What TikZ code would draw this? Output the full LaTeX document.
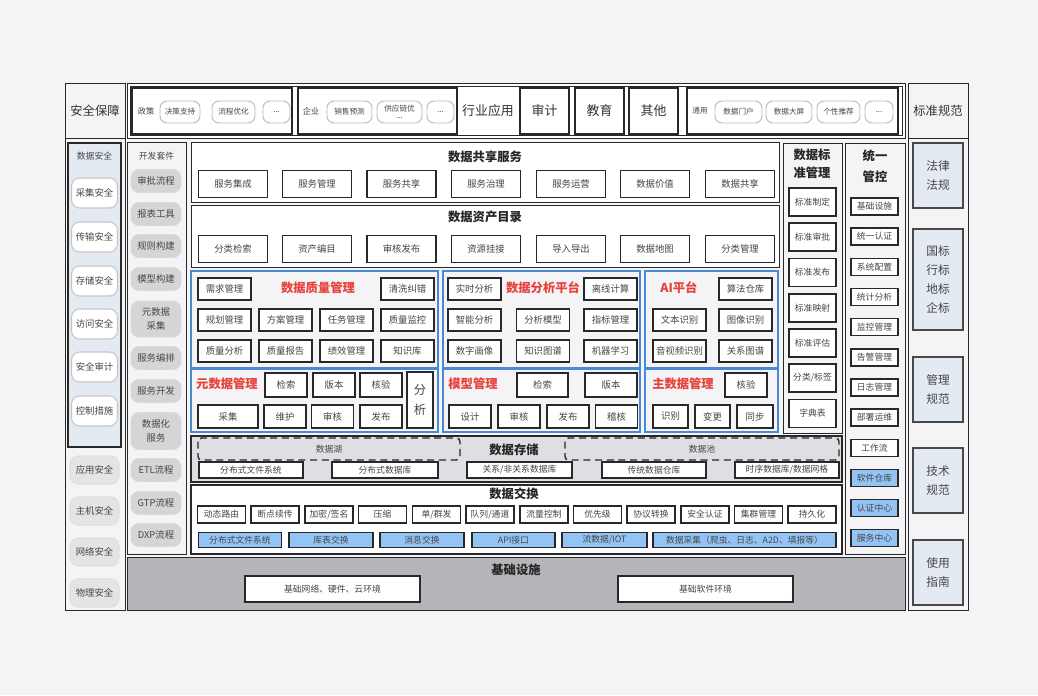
\documentclass[tikz,border=0pt]{standalone}
\usepackage{fontspec}
\setmainfont{Noto Sans CJK SC}

\definecolor{grund}{RGB}{244,244,246}
\definecolor{hellblau}{RGB}{227,234,242}
\definecolor{modulblau}{RGB}{74,138,212}
\definecolor{rot}{RGB}{232,65,58}
\definecolor{blaufeld}{RGB}{148,196,245}
\definecolor{speicher}{RGB}{222,223,226}
\definecolor{basis}{RGB}{181,182,185}
\definecolor{pillgrau}{RGB}{213,213,215}
\definecolor{pillhell}{RGB}{228,228,230}
\definecolor{linie}{RGB}{40,40,40}
\definecolor{textgrau}{RGB}{70,70,70}

\newcommand{\pxl}{0.03cm}
\newcommand{\groesse}[2]{\fontsize{#1}{#2}\selectfont}

\begin{document}
\begin{tikzpicture}[x=0.03cm,y=-0.03cm,
	rahmen/.style={draw=linie,line width=0.8pt},
	breite/.style={minimum width=#1*\pxl},
	hoehe/.style={minimum height=#1*\pxl},
	feld/.style={draw=linie,line width=1.1pt,fill=white,inner sep=0pt,text=textgrau,
		font=\groesse{8}{10},minimum width=53*\pxl,minimum height=22*\pxl},
	klein/.style={feld,font=\groesse{7.5}{9}},
	blau/.style={klein,fill=blaufeld},
	pille/.style={draw=gray!55,line width=0.8pt,fill=white,rounded corners=6pt,inner sep=0pt,
		text=textgrau,font=\groesse{6.5}{7},minimum height=22*\pxl,align=center},
	spille/.style={draw=gray!45,line width=0.9pt,fill=white,rounded corners=7pt,inner sep=0pt,
		text=textgrau,font=\groesse{8}{10},minimum width=46*\pxl,minimum height=30*\pxl},
	hpille/.style={spille,fill=pillhell,draw=gray!25,minimum width=49*\pxl,minimum height=28*\pxl},
	gpille/.style={draw=gray!30,line width=0.8pt,fill=pillgrau,rounded corners=7pt,inner sep=0pt,
		text=textgrau,font=\groesse{8}{12},minimum width=50*\pxl,minimum height=23*\pxl,align=center},
	norm/.style={draw=linie!85,line width=1pt,fill=hellblau,inner sep=0pt,text=textgrau,
		font=\groesse{10}{16},minimum width=50*\pxl,align=center},
	modul/.style={draw=modulblau,line width=1.3pt,fill=grund},
	kopf/.style={text=black!80,font=\groesse{10.5}{12}},
	titel/.style={text=black!85,font=\bfseries\groesse{10.5}{15},align=center},
	rottitel/.style={text=rot,font=\bfseries\groesse{10.5}{12}},
	notiz/.style={text=textgrau,font=\groesse{7.5}{9}}]

\fill[grund] (0,0) rectangle (1038,695);

% links
\draw[rahmen,fill=grund] (65,83) rectangle (125,610);
\draw[rahmen] (65,138) -- (125,138);
\node (sicher) at (95,111) [kopf] {安全保障};
\draw[rahmen,line width=1pt,fill=hellblau] (68,143) rectangle (121,447);
\node (dsicher) at (94.5,156) [notiz] {数据安全};
\node (s1) at (94.5,193) [spille] {采集安全};
\node (s2) at (94.5,237) [spille] {传输安全};
\node (s3) at (94.5,281) [spille] {存储安全};
\node (s4) at (94.5,324) [spille] {访问安全};
\node (s5) at (94.5,367) [spille] {安全审计};
\node (s6) at (94.5,411) [spille] {控制措施};
\node (s7) at (94.5,470) [hpille] {应用安全};
\node (s8) at (94.5,511) [hpille] {主机安全};
\node (s9) at (94.5,552) [hpille] {网络安全};
\node (s10) at (94.5,593) [hpille] {物理安全};

% rechts
\draw[rahmen,fill=grund] (908,83) rectangle (968,610);
\draw[rahmen] (908,138) -- (968,138);
\node (normen) at (938,111) [kopf] {标准规范};
\node (n1) at (938,175.5) [norm,hoehe=65] {法律\\法规};
\node (n2) at (938,279.5) [norm,hoehe=101] {国标\\行标\\地标\\企标};
\node (n3) at (938,389.5) [norm,hoehe=65] {管理\\规范};
\node (n4) at (938,480.5) [norm,hoehe=65] {技术\\规范};
\node (n5) at (938,572.5) [norm,hoehe=65] {使用\\指南};

% oben
\draw[rahmen,fill=white] (127,83) rectangle (905,138);
\draw[rahmen] (130,86) rectangle (902,135);
\draw[rahmen,line width=1pt] (132,88) rectangle (292,134);
\node (zheng) at (146,111) [notiz,font=\groesse{7}{8}] {政策};
\node (z1) at (180,112) [pille,breite=40] {决策支持};
\node (z2) at (233.5,112) [pille,breite=43] {流程优化};
\node (z3) at (276.5,112) [pille,breite=27] {...};
\draw[rahmen,line width=1pt] (298,88) rectangle (457,134);
\node (qiye) at (311,111) [notiz,font=\groesse{7}{8}] {企业};
\node (q1) at (349.5,112) [pille,breite=45] {销售预测};
\node (q2) at (399.5,112) [pille,breite=45,font=\groesse{6.5}{6}] {供应链优\\...};
\node (q3) at (440.5,112) [pille,breite=27] {...};
\node (hangye) at (488,111) [kopf,font=\groesse{11}{12}] {行业应用};
\node (shenji) at (544.5,111) [feld,breite=49,hoehe=46,font=\groesse{11}{12},text=black!80] {审计};
\node (jiaoyu) at (599.5,111) [feld,breite=49,hoehe=46,font=\groesse{11}{12},text=black!80] {教育};
\node (qita) at (653.5,111) [feld,breite=49,hoehe=46,font=\groesse{11}{12},text=black!80] {其他};
\draw[rahmen,line width=1pt] (687,88) rectangle (898,134);
\node (tongyong) at (700,111) [notiz,font=\groesse{6.5}{8}] {通用};
\node (t1) at (738.5,112) [pille,breite=47] {数据门户};
\node (t2) at (789,112) [pille,breite=46] {数据大屏};
\node (t3) at (838.5,112) [pille,breite=43] {个性推荐};
\node (t4) at (879,112) [pille,breite=28] {...};

% entwicklung
\draw[rahmen,fill=grund] (127,142) rectangle (186,554);
\node (kit) at (156.5,156) [notiz] {开发套件};
\node (k1) at (156,181) [gpille] {审批流程};
\node (k2) at (156,214) [gpille] {报表工具};
\node (k3) at (156,246) [gpille] {规则构建};
\node (k4) at (156,279) [gpille] {模型构建};
\node (k5) at (156,319) [gpille,hoehe=36] {元数据\\采集};
\node (k6) at (156,358) [gpille] {服务编排};
\node (k7) at (156,391) [gpille] {服务开发};
\node (k8) at (156,431) [gpille,hoehe=37] {数据化\\服务};
\node (k9) at (156,470) [gpille] {ETL流程};
\node (k10) at (156,503) [gpille] {GTP流程};
\node (k11) at (156,535) [gpille] {DXP流程};

% teilen
\draw[rahmen,fill=white] (191,142) rectangle (779,202);
\node (teilen) at (485,157) [titel] {数据共享服务};
\node (f1) at (233,184) [feld,breite=69,hoehe=27] {服务集成};
\node (f2) at (317,184) [feld,breite=69,hoehe=27] {服务管理};
\node (f3) at (401.5,184) [feld,breite=69,hoehe=27] {服务共享};
\node (f4) at (486,184) [feld,breite=69,hoehe=27] {服务治理};
\node (f5) at (571,184) [feld,breite=69,hoehe=27] {服务运营};
\node (f6) at (655,184) [feld,breite=69,hoehe=27] {数据价值};
\node (f7) at (740,184) [feld,breite=69,hoehe=27] {数据共享};

% katalog
\draw[rahmen,fill=white] (191,205) rectangle (779,267);
\node (katalog) at (485,217) [titel] {数据资产目录};
\node (c1) at (233,249) [feld,breite=69,hoehe=27] {分类检索};
\node (c2) at (317,249) [feld,breite=69,hoehe=27] {资产编目};
\node (c3) at (401.5,249) [feld,breite=69,hoehe=27] {审核发布};
\node (c4) at (486,249) [feld,breite=69,hoehe=27] {资源挂接};
\node (c5) at (571,249) [feld,breite=69,hoehe=27] {导入导出};
\node (c6) at (655,249) [feld,breite=69,hoehe=27] {数据地图};
\node (c7) at (740,249) [feld,breite=69,hoehe=27] {分类管理};

% qualitaet
\draw[modul] (191,271) rectangle (438,368);
\node (qual) at (318,288) [rottitel] {数据质量管理};
\node (ql1) at (224.5,289) [feld] {需求管理};
\node (ql2) at (407.5,289) [feld] {清洗纠错};
\node (ql3) at (224.5,320) [feld] {规划管理};
\node (ql4) at (285.5,320) [feld] {方案管理};
\node (ql5) at (346.5,320) [feld] {任务管理};
\node (ql6) at (407.5,320) [feld] {质量监控};
\node (ql7) at (224.5,351) [feld] {质量分析};
\node (ql8) at (285.5,351) [feld] {质量报告};
\node (ql9) at (346.5,351) [feld] {绩效管理};
\node (ql10) at (407.5,351) [feld] {知识库};

% metadaten
\draw[modul] (191,369) rectangle (438,432);
\node (meta) at (227,384) [rottitel] {元数据管理};
\node (m1) at (286,385) [feld,breite=42,hoehe=24] {检索};
\node (m2) at (334,385) [feld,breite=42,hoehe=24] {版本};
\node (m3) at (381,385) [feld,breite=42,hoehe=24] {核验};
\node (m4) at (420,400) [feld,breite=26,hoehe=56,font=\groesse{10.5}{17},align=center] {分\\析};
\node (m5) at (228,416.5) [feld,breite=60,hoehe=23] {采集};
\node (m6) at (285,416.5) [feld,breite=42,hoehe=23] {维护};
\node (m7) at (332.5,416.5) [feld,breite=42,hoehe=23] {审核};
\node (m8) at (381,416.5) [feld,breite=42,hoehe=23] {发布};

% analyse
\draw[modul] (443,271) rectangle (640,368);
\node (ana) at (543,288) [rottitel] {数据分析平台};
\node (a1) at (474.5,289) [feld] {实时分析};
\node (a2) at (610.5,289) [feld] {离线计算};
\node (a3) at (474.5,320) [feld] {智能分析};
\node (a4) at (543,320) [feld] {分析模型};
\node (a5) at (610.5,320) [feld] {指标管理};
\node (a6) at (474.5,351) [feld] {数字画像};
\node (a7) at (543,351) [feld] {知识图谱};
\node (a8) at (610.5,351) [feld] {机器学习};

% modelle
\draw[modul] (443,369) rectangle (640,432);
\node (mod) at (473,384) [rottitel] {模型管理};
\node (mo1) at (542.5,385) [feld,breite=51,hoehe=24] {检索};
\node (mo2) at (611,385) [feld,breite=52,hoehe=24] {版本};
\node (mo3) at (470,416.5) [feld,breite=42,hoehe=23] {设计};
\node (mo4) at (519,416.5) [feld,breite=42,hoehe=23] {审核};
\node (mo5) at (568,416.5) [feld,breite=42,hoehe=23] {发布};
\node (mo6) at (616.5,416.5) [feld,breite=42,hoehe=23] {稽核};

% ki
\draw[modul] (645,271) rectangle (778,368);
\node (ki) at (679,288) [rottitel] {AI平台};
\node (i1) at (745.5,289) [feld] {算法仓库};
\node (i2) at (679.5,320) [feld] {文本识别};
\node (i3) at (745.5,320) [feld] {图像识别};
\node (i4) at (679.5,351) [feld] {音视频识别};
\node (i5) at (745.5,351) [feld] {关系图谱};

% stammdaten
\draw[modul] (645,369) rectangle (778,432);
\node (stamm) at (683,384) [rottitel] {主数据管理};
\node (st1) at (746,385) [feld,breite=42,hoehe=24] {核验};
\node (st2) at (670.5,416.5) [feld,breite=35,hoehe=23] {识别};
\node (st3) at (712.5,416.5) [feld,breite=35,hoehe=23] {变更};
\node (st4) at (755,416.5) [feld,breite=36,hoehe=23] {同步};

% speicher
\draw[rahmen,line width=1pt,fill=speicher] (191,436) rectangle (842,482);
\draw[linie,line width=1.2pt,dash pattern=on 6pt off 4pt,rounded corners=3pt] (198,438) rectangle (460,460);
\draw[linie,line width=1.2pt,dash pattern=on 6pt off 4pt,rounded corners=3pt] (565,438) rectangle (839,460);
\node (see) at (329,449) [notiz] {数据湖};
\node (pool) at (702,449) [notiz] {数据池};
\node (speich) at (514,450) [titel] {数据存储};
\node (d1) at (251,470) [klein,breite=104,hoehe=16] {分布式文件系统};
\node (d2) at (385,470) [klein,breite=106,hoehe=16] {分布式数据库};
\node (d3) at (519.5,470) [klein,breite=105,hoehe=16] {关系/非关系数据库};
\node (d4) at (654,470) [klein,breite=104,hoehe=16] {传统数据仓库};
\node (d5) at (787,470) [klein,breite=104,hoehe=16] {时序数据库/数据网格};

% austausch
\draw[rahmen,line width=1pt,fill=white] (191,485) rectangle (842,554);
\node (tausch) at (514,494) [titel] {数据交换};
\node (e1) at (221.5,514.5) [klein,breite=48,hoehe=17] {动态路由};
\node (e2) at (275,514.5) [klein,breite=48,hoehe=17] {断点续传};
\node (e3) at (329,514.5) [klein,breite=48,hoehe=17] {加密/签名};
\node (e4) at (382.5,514.5) [klein,breite=48,hoehe=17] {压缩};
\node (e5) at (436.5,514.5) [klein,breite=48,hoehe=17] {单/群发};
\node (e6) at (490,514.5) [klein,breite=48,hoehe=17] {队列/通道};
\node (e7) at (544,514.5) [klein,breite=48,hoehe=17] {流量控制};
\node (e8) at (597.5,514.5) [klein,breite=48,hoehe=17] {优先级};
\node (e9) at (651,514.5) [klein,breite=48,hoehe=17] {协议转换};
\node (e10) at (705,514.5) [klein,breite=48,hoehe=17] {安全认证};
\node (e11) at (758.5,514.5) [klein,breite=48,hoehe=17] {集群管理};
\node (e12) at (812,514.5) [klein,breite=48,hoehe=17] {持久化};
\node (b1) at (240,540) [blau,breite=83,hoehe=15] {分布式文件系统};
\node (b2) at (331,540) [blau,breite=84,hoehe=15] {库表交换};
\node (b3) at (422,540) [blau,breite=84,hoehe=15] {消息交换};
\node (b4) at (513.5,540) [blau,breite=83,hoehe=15] {API接口};
\node (b5) at (604.5,540) [blau,breite=85,hoehe=15] {流数据/IOT};
\node (b6) at (744.5,540) [blau,breite=183,hoehe=15] {数据采集（爬虫、日志、A2D、填报等）};

% standard
\draw[rahmen,fill=grund] (783,143) rectangle (842,433);
\node (std) at (812,164) [titel] {数据标\\准管理};
\node (sd1) at (812.5,202) [klein,breite=47,hoehe=28] {标准制定};
\node (sd2) at (812.5,237) [klein,breite=47,hoehe=28] {标准审批};
\node (sd3) at (812.5,272.5) [klein,breite=47,hoehe=28] {标准发布};
\node (sd4) at (812.5,308) [klein,breite=47,hoehe=28] {标准映射};
\node (sd5) at (812.5,343) [klein,breite=47,hoehe=28] {标准评估};
\node (sd6) at (812.5,378) [klein,breite=47,hoehe=28] {分类/标签};
\node (sd7) at (812.5,413.5) [klein,breite=47,hoehe=28] {字典表};

% steuerung
\draw[rahmen,fill=grund] (845,143) rectangle (905,554);
\node (ctrl) at (875,166) [titel,font=\bfseries\groesse{10.5}{18}] {统一\\管控};
\node (u1) at (874.5,206.5) [klein,breite=47,hoehe=17] {基础设施};
\node (u2) at (874.5,236.5) [klein,breite=47,hoehe=17] {统一认证};
\node (u3) at (874.5,267) [klein,breite=47,hoehe=17] {系统配置};
\node (u4) at (874.5,297) [klein,breite=47,hoehe=17] {统计分析};
\node (u5) at (874.5,327) [klein,breite=47,hoehe=17] {监控管理};
\node (u6) at (874.5,357.5) [klein,breite=47,hoehe=17] {告警管理};
\node (u7) at (874.5,387.5) [klein,breite=47,hoehe=17] {日志管理};
\node (u8) at (874.5,417.5) [klein,breite=47,hoehe=17] {部署运维};
\node (u9) at (874.5,448) [klein,breite=47,hoehe=17] {工作流};
\node (u10) at (874.5,478) [blau,breite=47,hoehe=17] {软件仓库};
\node (u11) at (874.5,508) [blau,breite=47,hoehe=17] {认证中心};
\node (u12) at (874.5,538) [blau,breite=47,hoehe=17] {服务中心};

% basis
\draw[rahmen,fill=basis] (127,557) rectangle (905,610);
\node (infra) at (516,570) [titel] {基础设施};
\node (g1) at (332.5,589) [klein,breite=175,hoehe=26] {基础网络、硬件、云环境};
\node (g2) at (705.5,589) [klein,breite=175,hoehe=26] {基础软件环境};

\end{tikzpicture}
\end{document}
